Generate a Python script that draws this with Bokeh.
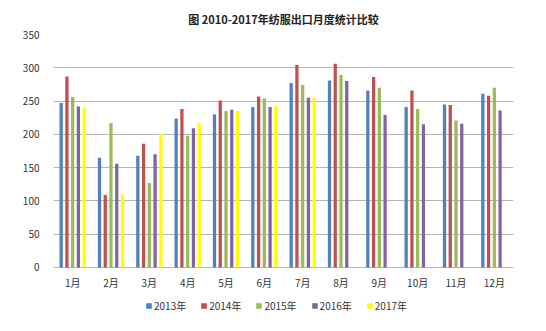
from bokeh.plotting import figure
from bokeh.models import ColumnDataSource, FactorRange, Range1d, Legend, LegendItem, FixedTicker
from bokeh.transform import dodge
from bokeh.embed import file_html
from bokeh.resources import INLINE

months = ["1月", "2月", "3月", "4月", "5月", "6月", "7月", "8月", "9月", "10月", "11月", "12月"]
series_names = ["2013年", "2014年", "2015年", "2016年", "2017年"]
v2013 = [247, 165, 168, 224, 230, 241, 277, 281, 266, 241, 245, 261]
v2014 = [287, 109, 186, 238, 251, 257, 304, 306, 286, 266, 244, 258]
v2015 = [256, 217, 127, 198, 235, 254, 274, 289, 270, 238, 221, 270]
v2016 = [242, 156, 170, 209, 237, 241, 255, 280, 229, 215, 216, 236]
v2017 = [240, 110, 201, 217, 235, 243, 255]
colors = ["#4F81BD", "#C0504D", "#9BBB59", "#8064A2", "#FFFF00"]
y_ticks = [0, 50, 100, 150, 200, 250, 300, 350]

FONT = "Noto Sans CJK SC"

# frame extends below 0 to host the legend; 0 sits 46px above the frame bottom
p = figure(frame_width=460, frame_height=279, x_range=FactorRange(*months, range_padding=0),
           y_range=Range1d(-69.1, 350), output_backend="svg", toolbar_location=None,
           min_border_left=53, min_border_right=33, min_border_top=0, min_border_bottom=0,
           title="图 2010-2017年纺服出口月度统计比较")
p.title.align = "center"
p.title.text_font = FONT
p.title.text_font_size = "11px"
p.title.text_font_style = "bold"
p.title.text_color = "#222222"
p.title.standoff = 16

p.outline_line_color = None
p.xgrid.grid_line_color = None
p.ygrid.grid_line_color = "#b4b4b4"
p.ygrid.grid_line_width = 1
p.yaxis.ticker = FixedTicker(ticks=y_ticks)
for ax in (p.xaxis[0], p.yaxis[0]):
    ax.axis_line_color = None
    ax.major_tick_line_color = None
    ax.minor_tick_line_color = None
    ax.major_label_text_font = FONT
    ax.major_label_text_font_size = "10px"
    ax.major_label_text_color = "#333333"
p.xaxis.fixed_location = 0
p.xaxis.major_label_standoff = 2
p.yaxis.major_label_standoff = 8

all_vals = [v2013, v2014, v2015, v2016, v2017]
offsets = [-0.3, -0.15, 0.0, 0.15, 0.3]
items = []
for name, vals, col, off in zip(series_names, all_vals, colors, offsets):
    src = ColumnDataSource(dict(m=months[:len(vals)], v=vals))
    r = p.vbar(x=dodge("m", off, range=p.x_range), top="v", width=0.085, source=src,
               fill_color=col, line_color=None)
    items.append(LegendItem(label=name, renderers=[r]))

legend = Legend(items=items, orientation="horizontal", location=(92, 0),
                label_text_font=FONT, label_text_font_size="10px", label_text_color="#333333",
                glyph_width=7, glyph_height=7, spacing=14, label_standoff=2,
                label_height=12,
                border_line_color=None, background_fill_alpha=0, padding=0, margin=0)
p.add_layout(legend, "center")

open("out.html", "w").write(file_html(p, INLINE))
